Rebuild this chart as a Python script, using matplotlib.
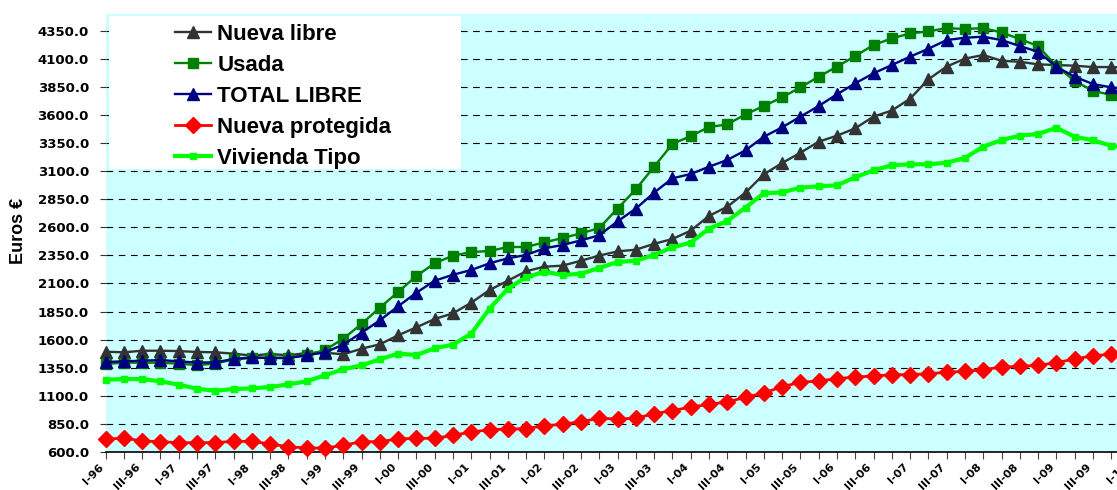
import matplotlib.pyplot as plt
from matplotlib.patches import Rectangle
from matplotlib.ticker import FormatStrFormatter

# quarters I-96 .. I-10
years = ['96', '97', '98', '99', '00', '01', '02', '03', '04', '05', '06', '07', '08', '09', '10']
quarters = [q + '-' + y for y in years for q in ['I', 'II', 'III', 'IV']][:57]

nueva_libre = [1492, 1487, 1501, 1501, 1498, 1490, 1487, 1475, 1457, 1472, 1460, 1481, 1484, 1469, 1519, 1558,
               1638, 1709, 1783, 1834, 1928, 2041, 2124, 2208, 2249, 2258, 2302, 2347, 2385, 2400, 2452, 2495,
               2569, 2700, 2782, 2908, 3070, 3171, 3262, 3361, 3414, 3480, 3584, 3638, 3743, 3916, 4029, 4100,
               4132, 4081, 4072, 4049, 4043, 4037, 4025, 4025, 4020]
usada = [1383, 1395, 1395, 1395, 1386, 1374, 1386, 1425, 1436, 1439, 1439, 1463, 1507, 1608, 1739, 1884,
         2023, 2166, 2279, 2347, 2379, 2388, 2424, 2424, 2465, 2504, 2545, 2593, 2765, 2937, 3138, 3340,
         3411, 3491, 3515, 3604, 3678, 3755, 3844, 3939, 4028, 4123, 4221, 4280, 4324, 4342, 4372, 4363,
         4372, 4333, 4274, 4212, 4034, 3901, 3814, 3776, 3750]
total_libre = [1400, 1407, 1412, 1418, 1407, 1395, 1398, 1427, 1442, 1436, 1436, 1460, 1487, 1555, 1661, 1771,
               1896, 2017, 2124, 2177, 2219, 2279, 2323, 2353, 2412, 2442, 2483, 2528, 2652, 2765, 2907, 3035,
               3073, 3138, 3198, 3284, 3405, 3488, 3584, 3678, 3782, 3880, 3969, 4043, 4117, 4188, 4265, 4286,
               4295, 4265, 4212, 4161, 4028, 3939, 3874, 3844, 3830]
nueva_protegida = [713, 725, 698, 692, 683, 683, 683, 695, 695, 671, 647, 636, 636, 659, 692, 692,
                   716, 722, 722, 748, 778, 798, 805, 808, 834, 846, 870, 900, 894, 900, 941, 968,
                   1000, 1024, 1045, 1087, 1125, 1181, 1220, 1232, 1252, 1267, 1276, 1288, 1288, 1297, 1309, 1318,
                   1332, 1356, 1362, 1371, 1395, 1427, 1457, 1469, 1480]
vivienda_tipo = [1243, 1249, 1249, 1229, 1199, 1163, 1145, 1160, 1166, 1178, 1202, 1229, 1282, 1336, 1371, 1425,
                 1475, 1463, 1523, 1555, 1653, 1875, 2053, 2154, 2204, 2175, 2186, 2237, 2290, 2302, 2353, 2421,
                 2462, 2587, 2655, 2775, 2902, 2910, 2952, 2964, 2973, 3044, 3106, 3151, 3160, 3160, 3174, 3216,
                 3316, 3376, 3415, 3429, 3485, 3405, 3373, 3325, 3300]

fig = plt.figure(figsize=(11.17, 4.9), dpi=100)
ax = fig.add_axes([105.5 / 1117, 38 / 490, 1024 / 1117, 438 / 490])
ax.set_facecolor('#CCFFFF')

xs = list(range(len(quarters)))
series = [
    ('Nueva libre', nueva_libre, '#333333', '^', 9, 1.7),
    ('Usada', usada, '#008000', 's', 7, 1.7),
    ('TOTAL LIBRE', total_libre, '#000080', '^', 9, 1.7),
    ('Nueva protegida', nueva_protegida, '#FF0000', 'D', 8, 2),
    ('Vivienda Tipo', vivienda_tipo, '#00FF00', 's', 5, 3),
]
for lab, vals, col, mk, ms, lw in series:
    ax.plot(xs, vals, color=col, marker=mk, ms=ms, lw=lw, label=lab, clip_on=False, zorder=3)

ax.set_xlim(0, 56)
ax.set_ylim(600, 4497)
ax.set_yticks(range(600, 4351, 250))
ax.yaxis.set_major_formatter(FormatStrFormatter('%.1f'))
ax.grid(axis='y', color='black', lw=0.8, linestyle=(0, (6, 5)))
ax.set_axisbelow(True)

for s in ['top', 'right', 'left']:
    ax.spines[s].set_visible(False)
ax.spines['bottom'].set_color('black')
ax.spines['bottom'].set_linewidth(1.2)

ax.set_xticks(xs)
ax.set_xticklabels([q if i % 2 == 0 else '' for i, q in enumerate(quarters)],
                   rotation=45, ha='right', va='top', fontsize=8, fontweight='bold', family='DejaVu Sans')
ax.tick_params(axis='x', length=5, color='#444444', pad=2)
ax.tick_params(axis='y', length=4, color='#333333', pad=8)
for t in ax.get_yticklabels():
    t.set_fontsize(9.5)
    t.set_fontweight('bold')
    t.set_family('DejaVu Sans')

# white legend background
ax.add_patch(Rectangle(((109 - 105.5) / 1024, (452 - 169) / 438), 352 / 1024, 153 / 438,
                       transform=ax.transAxes, facecolor='white', edgecolor='none', zorder=1))
ax.legend(loc='upper left', bbox_to_anchor=((175 - 105.5) / 1024, (452 - 24) / 438), frameon=False,
          prop={'family': 'Liberation Sans', 'weight': 'bold', 'size': 16}, handlelength=1.6,
          handletextpad=0.3, labelspacing=0.45, borderaxespad=0, borderpad=0, numpoints=1)

fig.text(18.5 / 1117, 1 - 231 / 490, 'Euros €', rotation=90, ha='center', va='center',
         fontsize=13, fontweight='bold', family='Liberation Sans')

fig.savefig('out.png', dpi=100)
